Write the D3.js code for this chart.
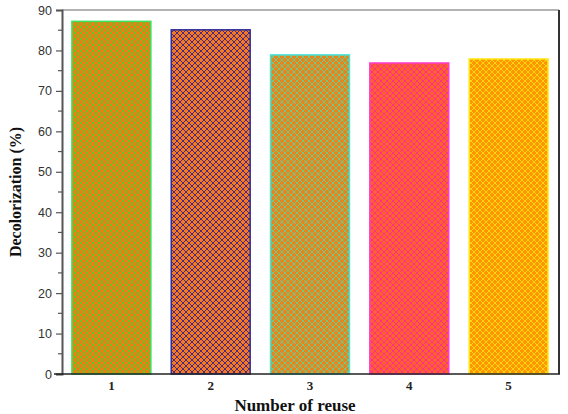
<!DOCTYPE html>
<html><head><meta charset="utf-8">
<script src="https://cdn.jsdelivr.net/npm/d3@7/dist/d3.min.js"></script>
<style>body{margin:0;background:#fff}</style>
</head><body><svg id="c" width="568" height="414"></svg>
<script>
const categories = ["1","2","3","4","5"];
const values = [87.2, 85.1, 78.9, 76.9, 77.9];
const yTicks = [0,10,20,30,40,50,60,70,80,90];
const bgColors = ["#ee7d12","#f27a24","#e8841c","#ff6030","#ff9600"];
const hatchColors = ["#4fcf2a","#3b1f86","#66d08e","#ff2a90","#ffdc10"];
const borderColors = ["#3ee060","#2b2c9c","#44e6dc","#ff3ccc","#ffea20"];

const svg = d3.select("#c");
const m = {l:62, r:10, t:10, b:40};
const W = 568, H = 414;
const x = d3.scaleBand().domain(categories).range([m.l, W - m.r]).paddingInner(0.195).paddingOuter(0.095);
const y = d3.scaleLinear().domain([0,90]).range([H - m.b, m.t]);

const defs = svg.append("defs");
categories.forEach((c,i)=>{
  const p = defs.append("pattern").attr("id","p"+i).attr("patternUnits","userSpaceOnUse")
    .attr("width",6).attr("height",6);
  p.append("rect").attr("width",6).attr("height",6).attr("fill",bgColors[i]);
  p.append("path").attr("d","M0,0L6,6M-1,5L1,7M5,-1L7,1").attr("stroke",hatchColors[i]).attr("stroke-width",0.9);
  p.append("path").attr("d","M6,0L0,6M-1,1L1,-1M5,7L7,5").attr("stroke",hatchColors[i]).attr("stroke-width",0.9);
});

// frame
svg.append("line").attr("x1",m.l).attr("x2",W-m.r+1).attr("y1",m.t).attr("y2",m.t).attr("stroke","#666").attr("stroke-width",1);
svg.append("line").attr("x1",W-m.r+1).attr("x2",W-m.r+1).attr("y1",m.t).attr("y2",H-m.b).attr("stroke","#333").attr("stroke-width",2);

svg.selectAll(".bar").data(values).enter().append("rect")
  .attr("x",(d,i)=>x(categories[i])+0.5).attr("width",x.bandwidth()-1)
  .attr("y",d=>y(d)).attr("height",d=>y(0)-y(d))
  .attr("fill",(d,i)=>"url(#p"+i+")")
  .attr("stroke",(d,i)=>borderColors[i]).attr("stroke-width",1.5);

// y axis
const ya = d3.axisLeft(y).tickValues(yTicks).tickSize(6).tickPadding(4).tickFormat(d3.format("d"));
const gy = svg.append("g").attr("transform",`translate(${m.l},0)`).call(ya);
gy.select(".domain").attr("stroke","#555").attr("stroke-width",2);
gy.selectAll(".tick line").attr("stroke","#555").attr("stroke-width",1.2);
gy.selectAll("text").attr("font-family","Liberation Sans, Arial, sans-serif").attr("font-size",12.5).attr("fill","#333");
const minor = d3.range(5,90,10);
gy.selectAll(".minor").data(minor).enter().append("line").attr("class","minor")
  .attr("x1",-4).attr("x2",0).attr("y1",d=>y(d)).attr("y2",d=>y(d)).attr("stroke","#555").attr("stroke-width",1.2);

// x axis
const xa = d3.axisBottom(x).tickSize(0).tickPadding(7);
const gx = svg.append("g").attr("transform",`translate(0,${H-m.b})`).call(xa);
gx.select(".domain").remove();
svg.append("line").attr("x1",m.l-8).attr("x2",W-m.r+2).attr("y1",H-m.b).attr("y2",H-m.b).attr("stroke","#222").attr("stroke-width",1.5);
gx.selectAll("text").attr("font-family","Liberation Serif, Times New Roman, serif").attr("font-weight","bold").attr("font-size",13).attr("fill","#222");

svg.append("text").attr("x",(m.l+W-m.r)/2 - 15).attr("y",411).attr("text-anchor","middle")
  .attr("font-family","Liberation Serif, Times New Roman, serif").attr("font-weight","bold").attr("font-size",17).attr("fill","#111")
  .text("Number of reuse");
svg.append("text").attr("transform",`translate(21,${(m.t+H-m.b)/2}) rotate(-90)`).attr("text-anchor","middle")
  .attr("font-family","Liberation Serif, Times New Roman, serif").attr("font-weight","bold").attr("font-size",16).attr("fill","#111")
  .text("Decolorization (%)");
</script></body></html>
